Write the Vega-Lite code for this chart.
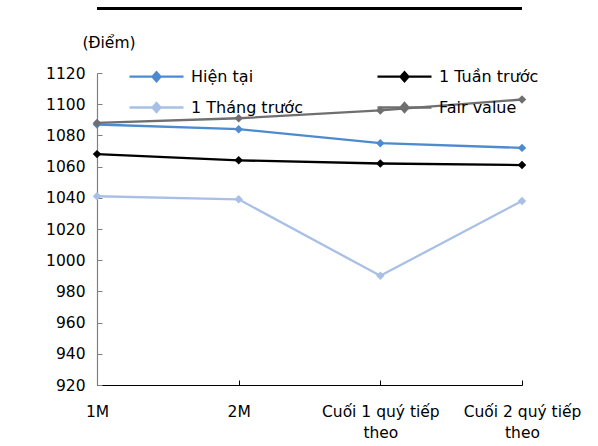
{
  "$schema": "https://vega.github.io/schema/vega-lite/v6.json",
  "width": 425,
  "height": 312,
  "autosize": {"type": "none"},
  "padding": {"left": 97, "top": 73, "right": 76, "bottom": 61},
  "background": "white",
  "config": {
    "view": {"stroke": null},
    "font": "DejaVu Sans",
    "axis": {"labelFont": "DejaVu Sans", "labelFontSize": 15.5, "labelColor": "#000", "grid": false, "titleFont": "DejaVu Sans"},
    "axisY": {
      "values": [920, 940, 960, 980, 1000, 1020, 1040, 1060, 1080, 1100, 1120], "format": "d", "labelOverlap": false,
      "titleAngle": 0, "titleX": -15, "titleY": -31, "titleAlign": "left", "titleBaseline": "middle",
      "titleFontWeight": "normal", "titleFontSize": 15.5, "titleColor": "#000",
      "domainColor": "#808080", "domainWidth": 1.2, "tickColor": "#808080", "tickSize": -5, "labelPadding": 17
    },
    "legend": {"labelFont": "DejaVu Sans", "labelFontSize": 16, "labelColor": "#000"}
  },
  "data": {
    "values": [
      {"ky": "1M", "series": "Hiện tại", "diem": 1087},
      {"ky": "2M", "series": "Hiện tại", "diem": 1084},
      {"ky": "Cuối 1 quý tiếp theo", "series": "Hiện tại", "diem": 1075},
      {"ky": "Cuối 2 quý tiếp theo", "series": "Hiện tại", "diem": 1072},
      {"ky": "1M", "series": "1 Tuần trước", "diem": 1068},
      {"ky": "2M", "series": "1 Tuần trước", "diem": 1064},
      {"ky": "Cuối 1 quý tiếp theo", "series": "1 Tuần trước", "diem": 1062},
      {"ky": "Cuối 2 quý tiếp theo", "series": "1 Tuần trước", "diem": 1061},
      {"ky": "1M", "series": "1 Tháng trước", "diem": 1041},
      {"ky": "2M", "series": "1 Tháng trước", "diem": 1039},
      {"ky": "Cuối 1 quý tiếp theo", "series": "1 Tháng trước", "diem": 990},
      {"ky": "Cuối 2 quý tiếp theo", "series": "1 Tháng trước", "diem": 1038},
      {"ky": "1M", "series": "Fair value", "diem": 1088},
      {"ky": "2M", "series": "Fair value", "diem": 1091},
      {"ky": "Cuối 1 quý tiếp theo", "series": "Fair value", "diem": 1096},
      {"ky": "Cuối 2 quý tiếp theo", "series": "Fair value", "diem": 1103}
    ]
  },
  "layer": [
    {
      "mark": {"type": "line", "strokeWidth": 2.3, "point": {"shape": "diamond", "filled": true, "size": 72, "opacity": 1}},
      "encoding": {
        "x": {
          "field": "ky", "type": "ordinal", "sort": null,
          "scale": {"type": "point", "padding": 0},
          "axis": {
            "title": null, "labelAngle": 0, "domainColor": "#000", "domainWidth": 1.2, "tickColor": "#000",
            "tickSize": -5, "labelPadding": 24, "labelLineHeight": 21,
            "labelExpr": "indexof(datum.label, ' theo') > 0 ? [replace(datum.label, ' theo', ''), 'theo'] : datum.label"
          }
        },
        "y": {
          "field": "diem", "type": "quantitative",
          "scale": {"domain": [920, 1120], "nice": false, "zero": false},
          "axis": {"title": "(Điểm)"}
        },
        "color": {
          "field": "series", "type": "nominal",
          "scale": {"domain": ["Hiện tại", "1 Tháng trước", "1 Tuần trước", "Fair value"], "range": ["#4d8ad0", "#a9c0e6", "#000000", "#6f6f6f"]},
          "legend": {
            "title": null, "orient": "none", "legendX": 48, "legendY": -8, "columns": 2, "columnPadding": 69,
            "rowPadding": 10, "padding": 0,
            "symbolType": "M-2.7,0L2.7,0M0,-0.45L0.4,0L0,0.45L-0.4,0Z",
            "symbolSize": 400, "symbolStrokeWidth": 2.3, "labelOffset": 23,
            "encode": {"symbols": {"update": {"fill": {"scale": "color", "field": "value"}}}}
          }
        }
      }
    },
    {
      "mark": {"type": "rule", "clip": false, "strokeWidth": 2.5, "color": "#000"},
      "encoding": {"y": {"datum": 1161.5, "axis": {"title": "(Điểm)"}}}
    }
  ]
}
